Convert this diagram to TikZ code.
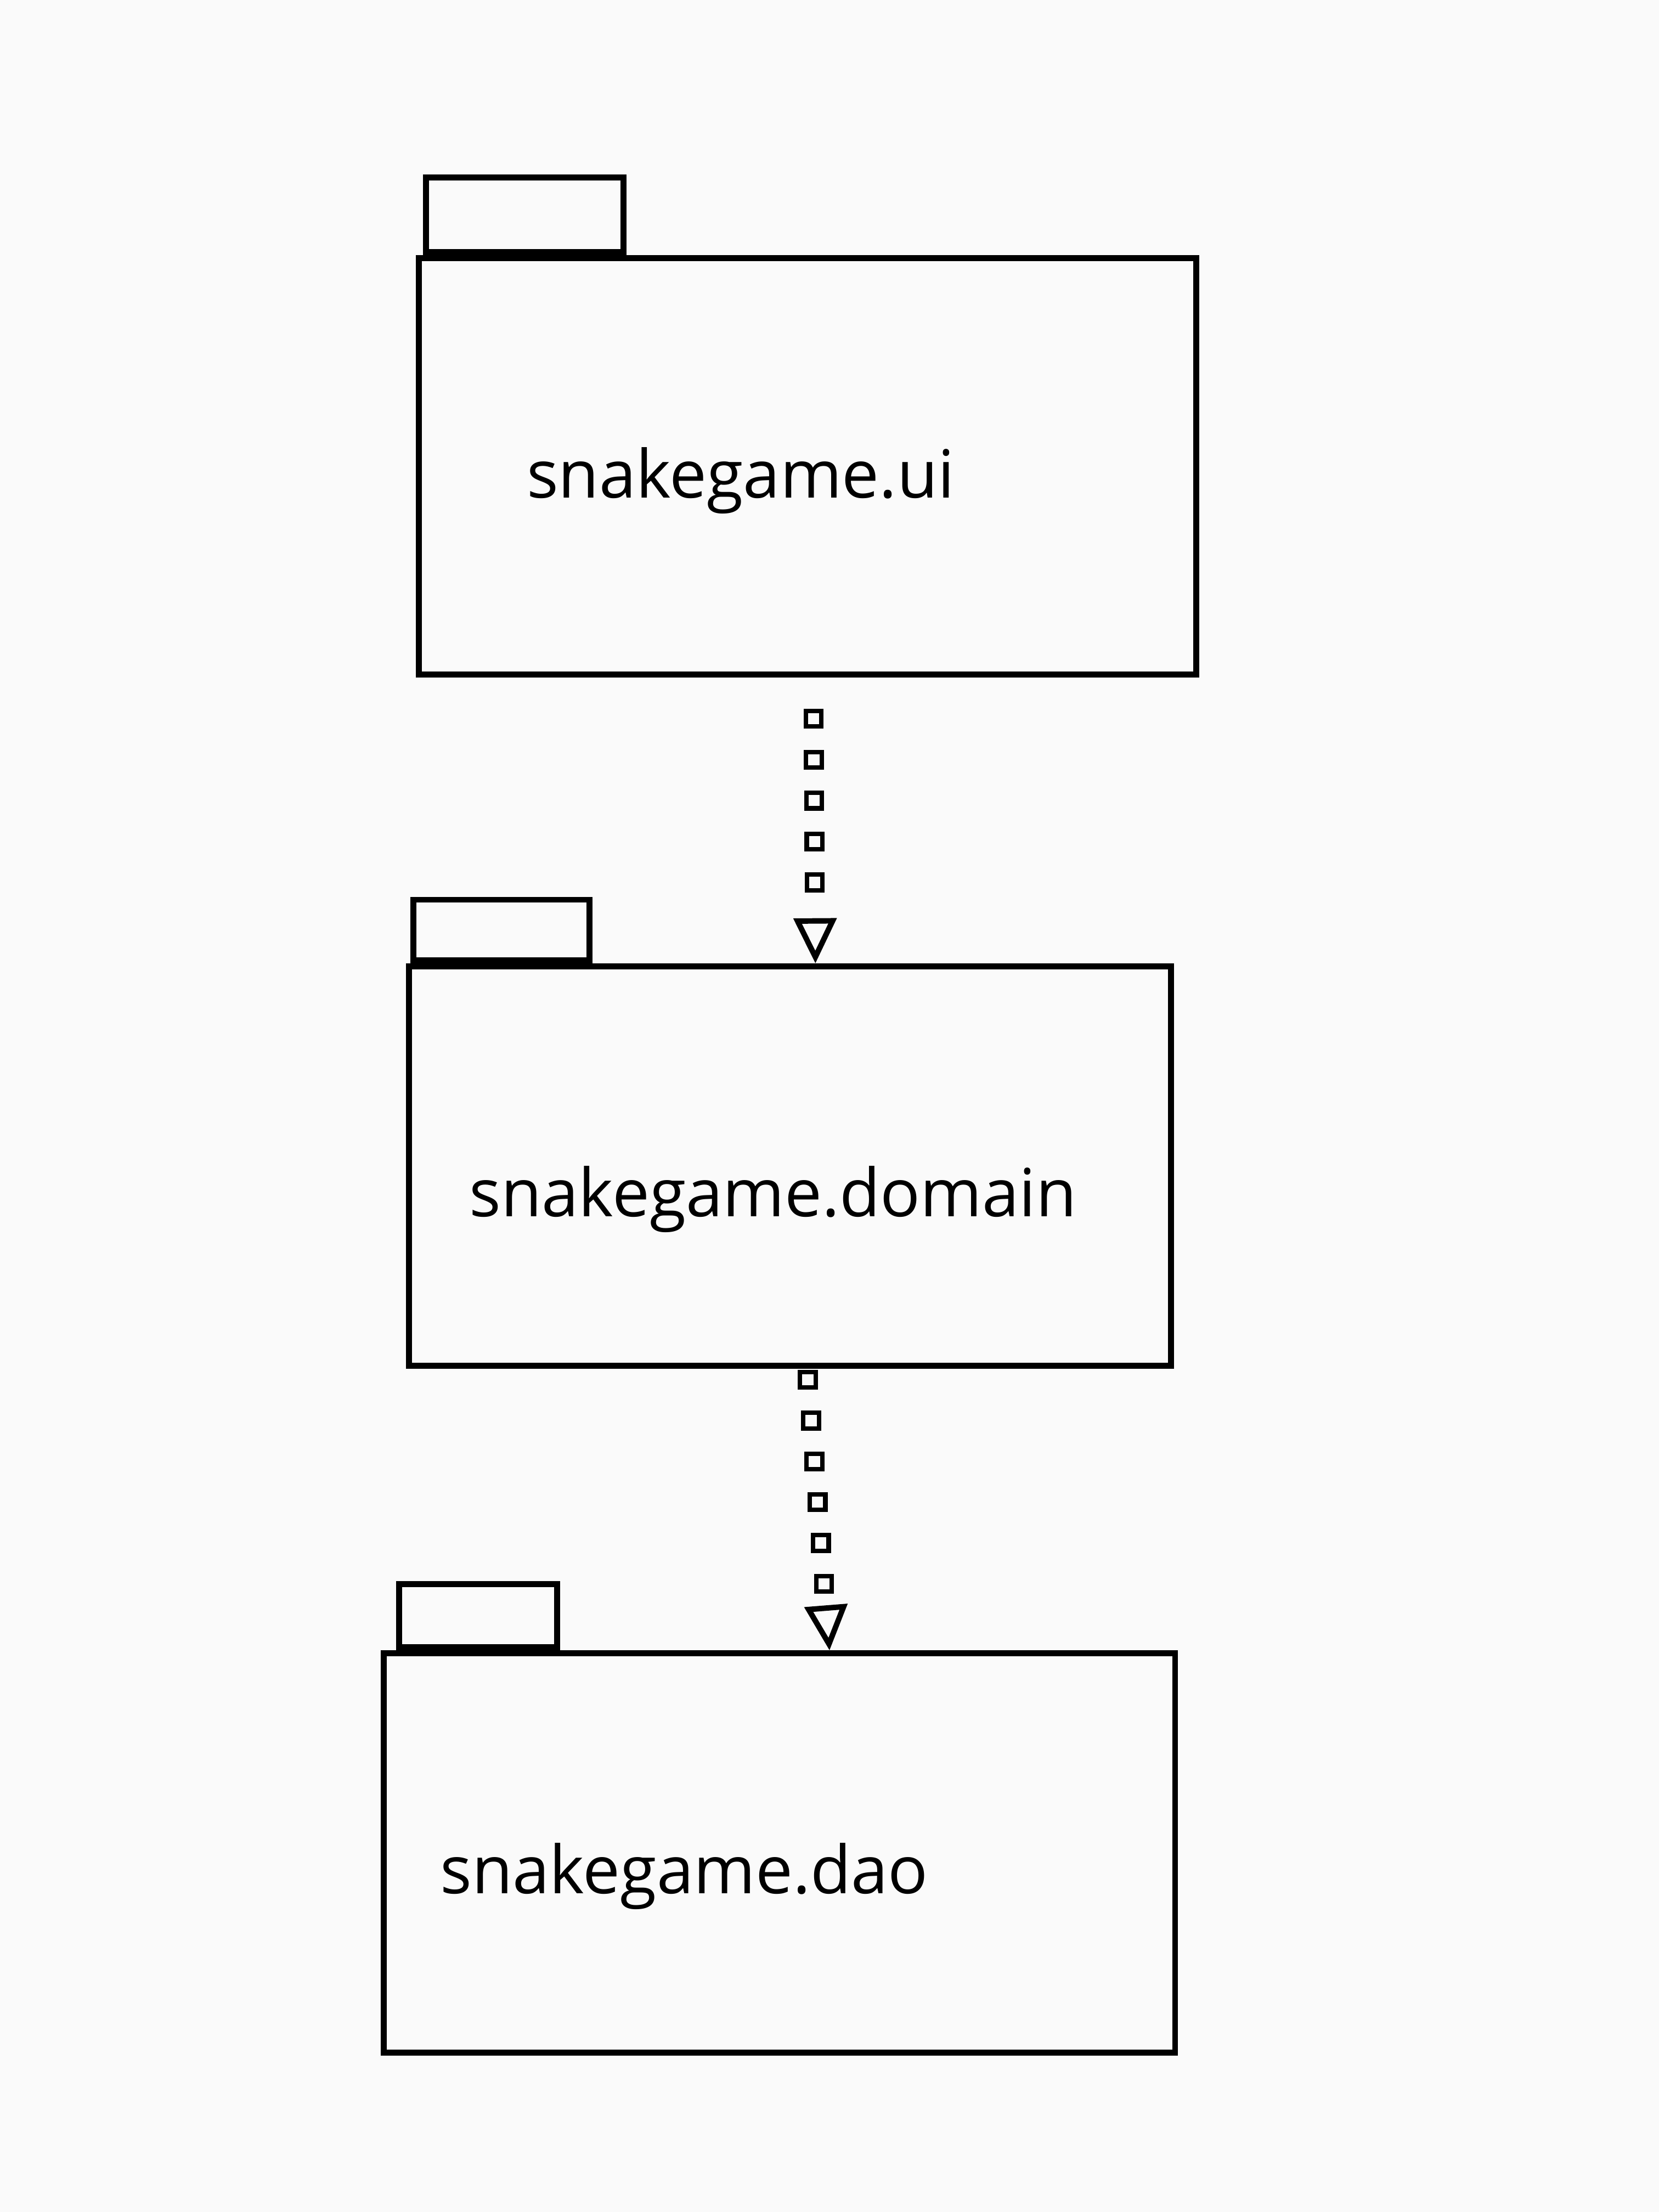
\documentclass[tikz,border=0pt]{standalone}
\usepackage{fontspec}
\setmainfont{Open Sans}
\usetikzlibrary{arrows.meta,decorations.markings}
\begin{document}
\begin{tikzpicture}[
  pkg/.style={draw, line width=1.2pt, minimum width=#1, inner sep=0pt, anchor=center},
  tab/.style={draw, line width=1.2pt, minimum width=#1, inner sep=0pt, anchor=south west},
  pkgname/.style={font=\fontsize{13.4}{16}\selectfont},
  depends/.style={decoration={markings,
      mark=between positions #1 step 0.29cm with {\node[draw, line width=0.9pt, minimum size=0.11cm, inner sep=0pt] {};},
      mark=at position 1 with {\arrow[line width=1.1pt]{Triangle[open, width=0.3cm, length=0.32cm]}}},
    postaction={decorate}}
]
\fill[gray!4] (0,0) rectangle (11.76,-15.68);
\useasboundingbox (0,0) rectangle (11.76,-15.68);
\node[pkg=5.51cm, minimum height=2.95cm] (ui) at (5.725,-3.305) {};
\node[tab=1.40cm, minimum height=0.53cm] (uitab) at ([xshift=0.05cm]ui.north west) {};
\node[pkgname] (uiname) at ([xshift=-0.475cm, yshift=-0.1cm]ui.center) {snakegame.ui};
\node[pkg=5.40cm, minimum height=2.83cm] (domain) at (5.60,-8.265) {};
\node[tab=1.25cm, minimum height=0.43cm] (domaintab) at ([xshift=0.03cm]domain.north west) {};
\node[pkgname] (domainname) at ([xshift=-0.12cm, yshift=-0.235cm]domain.center) {snakegame.domain};
\node[pkg=5.61cm, minimum height=2.83cm] (dao) at (5.525,-13.135) {};
\node[tab=1.12cm, minimum height=0.45cm] (daotab) at ([xshift=0.11cm]dao.north west) {};
\node[pkgname] (daoname) at ([xshift=-0.675cm, yshift=-0.165cm]dao.center) {snakegame.dao};
\path[depends={0.145 and 0.74}] ([xshift=0.04cm]ui.south) -- ([xshift=0.18cm]domain.north);
\path[depends={0.04 and 0.82}] ([xshift=0.12cm]domain.south) -- ([xshift=0.355cm]dao.north);
\end{tikzpicture}
\end{document}
